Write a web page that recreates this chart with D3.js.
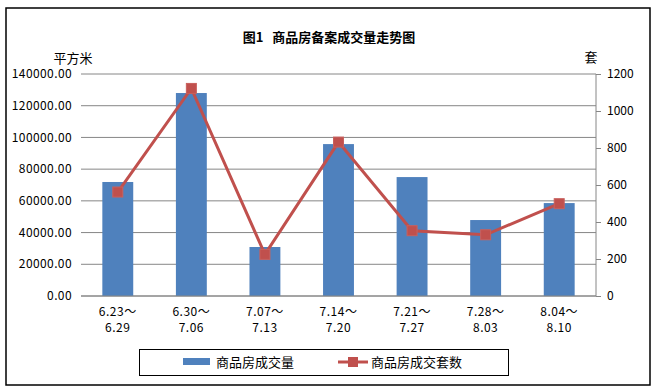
<!DOCTYPE html>
<html lang="zh">
<head>
<meta charset="utf-8">
<title>商品房备案成交量走势图</title>
<script src="https://d3js.org/d3.v7.min.js"></script>
<style>
  body { margin: 0; background: #fff; }
  text { font-family: "Noto Sans CJK SC", sans-serif; fill: #000; }
</style>
</head>
<body>
<script>
// data
var weeks = [["6.23～", "6.29"], ["6.30～", "7.06"], ["7.07～", "7.13"], ["7.14～", "7.20"],
             ["7.21～", "7.27"], ["7.28～", "8.03"], ["8.04～", "8.10"]];
var area = [71900, 128000, 30900, 95800, 75000, 47900, 58600];   // 商品房成交量 (平方米)
var units = [562, 1122, 225, 832, 353, 331, 499];                 // 商品房成交套数 (套)
var leftTicks = [0, 20000, 40000, 60000, 80000, 100000, 120000, 140000];
var rightTicks = [0, 200, 400, 600, 800, 1000, 1200];

var W = 656, H = 391;
// plot area ("top" is taken by window.top, so use a margin object)
var plot = { left: 81, right: 596, top: 74, bottom: 296 };

var svg = d3.select("body").append("svg")
  .attr("width", W).attr("height", H);

// outer frame
svg.append("rect")
  .attr("x", 6).attr("y", 8).attr("width", 644).attr("height", 377)
  .attr("fill", "none").attr("stroke", "#000").attr("stroke-width", 1.5);

var x = d3.scaleBand().domain(d3.range(weeks.length)).range([plot.left, plot.right])
  .paddingInner(0.58).paddingOuter(0.29);
var yL = d3.scaleLinear().domain([0, 140000]).range([plot.bottom, plot.top]);
var yR = d3.scaleLinear().domain([0, 1200]).range([plot.bottom, plot.top]);

// gridlines
svg.append("g").selectAll("line").data(leftTicks).enter().append("line")
  .attr("x1", plot.left).attr("x2", plot.right)
  .attr("y1", function(d) { return yL(d); }).attr("y2", function(d) { return yL(d); })
  .attr("stroke", "#868686").attr("stroke-width", 1);

// left axis labels
svg.append("g").selectAll("text").data(leftTicks).enter().append("text")
  .attr("x", 72).attr("y", function(d) { return yL(d); })
  .attr("dy", "0.35em").attr("text-anchor", "end").attr("font-size", 12)
  .attr("letter-spacing", 0.4)
  .text(function(d) { return d3.format(".2f")(d); });

// right axis
var gR = svg.append("g").attr("transform", "translate(" + plot.right + ",0)");
gR.call(d3.axisRight(yR).tickValues(rightTicks).tickFormat(d3.format("d")).tickSize(5).tickPadding(6));
gR.selectAll("path, line").attr("stroke", "#868686");
gR.select(".domain").attr("d", "M0," + plot.top + "V" + plot.bottom);
gR.selectAll("text").attr("font-size", 12).attr("font-family", "Noto Sans CJK SC").attr("fill", "#000");

svg.append("text").attr("x", 73).attr("y", 58).attr("dy", "0.35em")
  .attr("text-anchor", "middle").attr("font-size", 13).text("平方米");
svg.append("text").attr("x", 591).attr("y", 57).attr("dy", "0.35em")
  .attr("text-anchor", "middle").attr("font-size", 13).text("套");

// title
svg.append("text").attr("x", 329).attr("y", 37).attr("dy", "0.35em")
  .attr("text-anchor", "middle").attr("font-size", 13).attr("font-weight", "bold")
  .attr("xml:space", "preserve").text("图1   商品房备案成交量走势图");

// bars
svg.append("g").selectAll("rect").data(area).enter().append("rect")
  .attr("x", function(d, i) { return x(i); })
  .attr("width", x.bandwidth())
  .attr("y", function(d) { return yL(d); })
  .attr("height", function(d) { return plot.bottom - yL(d); })
  .attr("fill", "#4F81BD");

// x axis line
svg.append("line").attr("x1", plot.left).attr("x2", plot.right)
  .attr("y1", plot.bottom).attr("y2", plot.bottom)
  .attr("stroke", "#868686");

// category labels
var cx = function(i) { return x(i) + x.bandwidth() / 2; };
var lab = svg.append("g").selectAll("text").data(weeks).enter().append("text")
  .attr("text-anchor", "middle").attr("font-size", 12).attr("letter-spacing", 0.5);
lab.append("tspan").attr("x", function(d, i) { return cx(i); }).attr("y", 316).text(function(d) { return d[0]; });
lab.append("tspan").attr("x", function(d, i) { return cx(i); }).attr("y", 332).text(function(d) { return d[1]; });

// line series
var line = d3.line().x(function(d, i) { return cx(i); }).y(function(d) { return yR(d); });
svg.append("path").datum(units).attr("d", line)
  .attr("fill", "none").attr("stroke", "#C0504D").attr("stroke-width", 3);
svg.append("g").selectAll("rect").data(units).enter().append("rect")
  .attr("x", function(d, i) { return cx(i) - 5; })
  .attr("y", function(d) { return yR(d) - 5; })
  .attr("width", 10).attr("height", 10)
  .attr("fill", "#C0504D").attr("stroke", "#C9605D").attr("stroke-width", 1);

// legend
var lg = svg.append("g");
lg.append("rect").attr("x", 139.5).attr("y", 349.5).attr("width", 369).attr("height", 26)
  .attr("fill", "#fff").attr("stroke", "#000");
lg.append("rect").attr("x", 183).attr("y", 358).attr("width", 27).attr("height", 7).attr("fill", "#4F81BD");
lg.append("text").attr("x", 216).attr("y", 362).attr("dy", "0.35em").attr("font-size", 13).text("商品房成交量");
lg.append("line").attr("x1", 338).attr("x2", 368).attr("y1", 362).attr("y2", 362)
  .attr("stroke", "#C0504D").attr("stroke-width", 3);
lg.append("rect").attr("x", 348).attr("y", 357).attr("width", 10).attr("height", 10).attr("fill", "#C0504D");
lg.append("text").attr("x", 371).attr("y", 362).attr("dy", "0.35em").attr("font-size", 13).text("商品房成交套数");
</script>
</body>
</html>
